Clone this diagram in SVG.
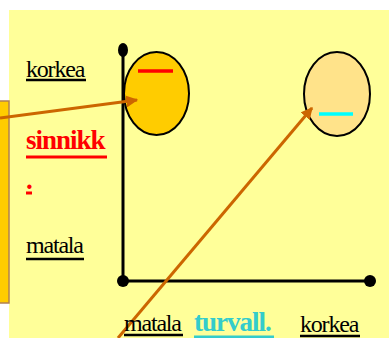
<svg xmlns="http://www.w3.org/2000/svg" width="389" height="338" viewBox="0 0 389 338">
<defs>
<style>
.lbl{font-family:"Liberation Serif","Times New Roman",serif;font-size:24px;letter-spacing:-1.2px;fill:#000;}
.big{font-family:"Liberation Serif","Times New Roman",serif;font-size:27px;font-weight:bold;letter-spacing:-1px;}
.ax{stroke:#000;stroke-width:3;fill:none;}
.arr{stroke:#CC6600;stroke-width:3;fill:none;marker-end:url(#ah);}
.ul{stroke-width:2.5;}
</style>
<marker id="ah" viewBox="0 0 10 10" refX="9" refY="5" markerWidth="4" markerHeight="4" orient="auto" markerUnits="strokeWidth">
<path d="M0,0 L10,5 L0,10 z" fill="#CC6600"/>
</marker>
</defs>
<rect width="389" height="338" fill="#FFFFFF"/>
<rect x="9" y="10" width="380" height="328" fill="#FFFF99"/>
<rect id="sidebox" x="-2" y="101" width="11" height="202" fill="#FFCC00" stroke="#B08050" stroke-width="1.5"/>
<g id="axes">
<line class="ax" x1="123" y1="50" x2="123" y2="281"/>
<line class="ax" x1="123" y1="281" x2="370" y2="281"/>
<ellipse cx="123" cy="50" rx="5" ry="7" fill="#000"/>
<ellipse cx="123" cy="281" rx="6" ry="6" fill="#000"/>
<ellipse cx="370" cy="281" rx="6" ry="6" fill="#000"/>
</g>
<g id="node-low">
<ellipse cx="156.5" cy="93.5" rx="32.5" ry="41.5" fill="#FFCC00" stroke="#000" stroke-width="2"/>
<line x1="138" y1="71" x2="173" y2="71" stroke="#FF0000" stroke-width="3.5"/>
</g>
<g id="node-high">
<ellipse cx="337" cy="94" rx="33" ry="42" fill="#FFE38A" stroke="#000" stroke-width="2"/>
<line x1="319" y1="114" x2="353" y2="114" stroke="#00FFFF" stroke-width="3.5"/>
</g>
<g id="connectors">
<line class="arr" x1="0" y1="118" x2="137" y2="100"/>
<line class="arr" x1="118" y1="338" x2="312" y2="108"/>
</g>
<g id="labels">
<text class="lbl" x="26" y="77">korkea</text>
<line class="ul" x1="26" y1="80" x2="86" y2="80" stroke="#000"/>
<text class="big" x="26" y="149" fill="#FF0000">sinnikk</text>
<line x1="26" y1="157" x2="107" y2="157" stroke="#FF0000" stroke-width="3"/>
<text class="big" x="26" y="189" fill="#FF0000">.</text>
<line x1="26" y1="193" x2="32" y2="193" stroke="#FF0000" stroke-width="3"/>
<text class="lbl" x="26" y="253">matala</text>
<line class="ul" x1="26" y1="259" x2="84" y2="259" stroke="#000"/>
<text class="lbl" x="124" y="331">matala</text>
<line class="ul" x1="124" y1="335" x2="183" y2="335" stroke="#000"/>
<text class="big" x="194" y="331" fill="#33CCCC">turvall.</text>
<line x1="194" y1="337" x2="274" y2="337" stroke="#33CCCC" stroke-width="3"/>
<text class="lbl" x="300" y="332">korkea</text>
<line class="ul" x1="300" y1="336" x2="360" y2="336" stroke="#000"/>
</g>
</svg>
